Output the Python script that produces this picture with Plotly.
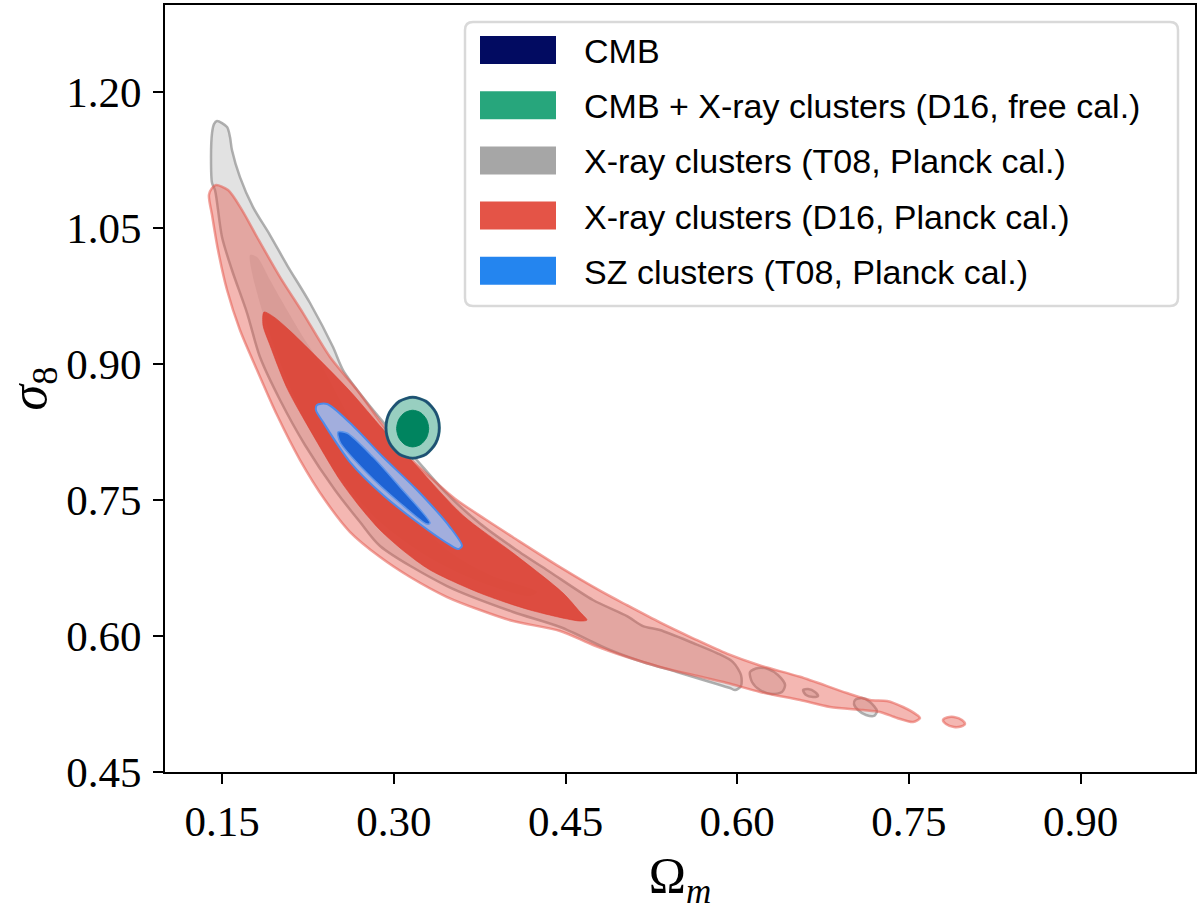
import plotly.graph_objects as go

# ---------------- data ----------------
# X-ray clusters (T08, Planck cal.) : 95% region (main body + small islands) and 68% region
gray95_x = [0.1454, 0.1542, 0.1568, 0.1585, 0.1655, 0.1769, 0.1917, 0.2066, 0.2267, 0.2468, 0.2555,
            0.2748, 0.2966, 0.3185, 0.3447, 0.3752, 0.4058, 0.4364, 0.4740, 0.5037, 0.5177, 0.5325,
            0.5614, 0.5823, 0.5963, 0.6033, 0.6033, 0.5981,
            0.5937, 0.5762, 0.5474, 0.5177, 0.4888, 0.4452, 0.4041, 0.3464, 0.2879, 0.2704, 0.2485,
            0.2223, 0.2005, 0.1830, 0.1717, 0.1585, 0.1498, 0.1437, 0.1411, 0.1402, 0.1411, 0.1428]
gray95_y = [1.1680, 1.1614, 1.1503, 1.1360, 1.1062, 1.0731, 1.0423, 1.0092, 0.9673, 0.9187, 0.8934,
            0.8603, 0.8272, 0.7963, 0.7590, 0.7240, 0.6960, 0.6706, 0.6397, 0.6220, 0.6110, 0.6066,
            0.5923, 0.5812, 0.5713, 0.5570, 0.5448, 0.5404,
            0.5426, 0.5493, 0.5603, 0.5713, 0.5846, 0.6099, 0.6265, 0.6551, 0.6993, 0.7257, 0.7610,
            0.8107, 0.8603, 0.9077, 0.9562, 1.0037, 1.0401, 1.0919, 1.0996, 1.1283, 1.1548, 1.1647]
gray95_isl1_x = [0.6112, 0.6182, 0.6269, 0.6356, 0.6418, 0.6391, 0.6304, 0.6199, 0.6129]
gray95_isl1_y = [0.5603, 0.5647, 0.5636, 0.5570, 0.5460, 0.5382, 0.5360, 0.5404, 0.5493]
gray95_isl2_x = [0.6575, 0.6619, 0.6680, 0.6706, 0.6662, 0.6601]
gray95_isl2_y = [0.5404, 0.5415, 0.5382, 0.5338, 0.5327, 0.5349]
gray95_isl3_x = [0.7029, 0.7090, 0.7160, 0.7221, 0.7195, 0.7125, 0.7055, 0.7020]
gray95_isl3_y = [0.5294, 0.5316, 0.5272, 0.5173, 0.5118, 0.5129, 0.5184, 0.5250]
gray68_x = [0.1743, 0.1804, 0.1917, 0.2066, 0.2206, 0.2354, 0.2529, 0.2765, 0.3053, 0.3464, 0.3840, 0.4251,
            0.4189, 0.3752, 0.3316, 0.2879, 0.2529, 0.2267, 0.2049, 0.1874, 0.1786, 0.1743]
gray68_y = [1.0202, 1.0180, 0.9926, 0.9595, 0.9298, 0.9011, 0.8603, 0.8051, 0.7500, 0.6948, 0.6673, 0.6485,
            0.6441, 0.6596, 0.6860, 0.7257, 0.7754, 0.8272, 0.8879, 0.9485, 0.9871, 1.0125]

# X-ray clusters (D16, Planck cal.)
red95_x = [0.1446, 0.1551, 0.1673, 0.1804, 0.2005, 0.2206, 0.2442, 0.2678, 0.2922, 0.3115, 0.3342, 0.3534,
           0.3796, 0.4041, 0.4452, 0.4801, 0.5037, 0.5325, 0.5614, 0.5911, 0.6199, 0.6549, 0.6959, 0.7160,
           0.7309, 0.7449, 0.7571, 0.7597,
           0.7536, 0.7396, 0.7248, 0.7099, 0.6811, 0.6549, 0.6199, 0.5911, 0.5614, 0.5325, 0.5037, 0.4740,
           0.4452, 0.4041, 0.3752, 0.3464, 0.3141, 0.2879, 0.2617, 0.2398, 0.2180, 0.1979, 0.1804, 0.1655,
           0.1542, 0.1463, 0.1411, 0.1384, 0.1411]
red95_y = [1.0974, 1.0919, 1.0698, 1.0401, 0.9959, 0.9562, 0.9077, 0.8713, 0.8294, 0.7996, 0.7725, 0.7515,
           0.7290, 0.7090, 0.6760, 0.6500, 0.6340, 0.6150, 0.5975, 0.5805, 0.5675, 0.5550, 0.5371, 0.5294,
           0.5283, 0.5217, 0.5129, 0.5096,
           0.5051, 0.5096, 0.5162, 0.5184, 0.5217, 0.5294, 0.5382, 0.5482, 0.5570, 0.5658, 0.5768, 0.5901,
           0.6055, 0.6165, 0.6287, 0.6430, 0.6651, 0.6871, 0.7147, 0.7500, 0.7941, 0.8437, 0.8934, 0.9375,
           0.9816, 1.0257, 1.0643, 1.0864, 1.0941]
red95_isl_x = [0.7798, 0.7833, 0.7894, 0.7964, 0.7990, 0.7955, 0.7894, 0.7824]
red95_isl_y = [0.5074, 0.5101, 0.5107, 0.5074, 0.5029, 0.5002, 0.4996, 0.5029]
red68_x = [0.1865, 0.1950, 0.2080, 0.2300, 0.2617, 0.2905, 0.3202, 0.3604, 0.4041, 0.4478, 0.4626,
           0.4687, 0.4626, 0.4189, 0.3752, 0.3316, 0.3097, 0.2879, 0.2704, 0.2529, 0.2293, 0.2066, 0.1917,
           0.1856]
red68_y = [0.9573, 0.9520, 0.9380, 0.9110, 0.8700, 0.8280, 0.7870, 0.7330, 0.6915, 0.6474, 0.6265,
           0.6176, 0.6165, 0.6287, 0.6474, 0.6728, 0.6926, 0.7169, 0.7423, 0.7720, 0.8217, 0.8735, 0.9209,
           0.9430]

# SZ clusters (T08, Planck cal.)
blue95_x = [0.2328, 0.2416, 0.2617, 0.2905, 0.3202, 0.3490, 0.3595, 0.3560, 0.3490, 0.3202, 0.2905, 0.2617,
            0.2381, 0.2319]
blue95_y = [0.8548, 0.8559, 0.8349, 0.7974, 0.7610, 0.7202, 0.6993, 0.6959, 0.7004, 0.7257, 0.7555, 0.7919,
            0.8360, 0.8492]
blue68_x = [0.2512, 0.2590, 0.2818, 0.3053, 0.3316, 0.3289, 0.3053, 0.2765, 0.2529]
blue68_y = [0.8250, 0.8239, 0.7974, 0.7643, 0.7246, 0.7235, 0.7467, 0.7798, 0.8140]

# CMB + X-ray clusters (D16, free cal.)  (the CMB contour lies on the same outline)
green95_x = [0.3397, 0.3366, 0.3281, 0.3164, 0.3047, 0.2962, 0.2931, 0.2962, 0.3047, 0.3164, 0.3281, 0.3366]
green95_y = [0.8297, 0.8465, 0.8588, 0.8633, 0.8588, 0.8465, 0.8297, 0.8129, 0.8006, 0.7961, 0.8006, 0.8129]
green68_x = [0.3304, 0.3285, 0.3234, 0.3164, 0.3094, 0.3043, 0.3024, 0.3043, 0.3094, 0.3164, 0.3234, 0.3285]
green68_y = [0.8288, 0.8389, 0.8463, 0.8490, 0.8463, 0.8389, 0.8288, 0.8187, 0.8113, 0.8086, 0.8113, 0.8187]

legend_labels = ["CMB", "CMB + X-ray clusters (D16, free cal.)", "X-ray clusters (T08, Planck cal.)",
                 "X-ray clusters (D16, Planck cal.)", "SZ clusters (T08, Planck cal.)"]
legend_colors = ["#020b61", "#27a67c", "#a6a6a6", "#e45447", "#2485ef"]

x_ticks = [0.15, 0.30, 0.45, 0.60, 0.75, 0.90]
y_ticks = [0.45, 0.60, 0.75, 0.90, 1.05, 1.20]

# ---------------- figure ----------------
fig = go.Figure()


def closed(v):
    return list(v) + [v[0]]


def region(xs, ys, fill, line_color, line_width, name):
    fig.add_trace(go.Scatter(
        x=closed(xs), y=closed(ys), mode="lines", fill="toself",
        fillcolor=fill, line=dict(color=line_color, width=line_width, shape="spline", smoothing=0.8),
        name=name, showlegend=False, hoverinfo="skip"))


gray_fill = "rgba(166,166,166,0.33)"
gray_line = "rgba(150,150,150,0.75)"
region(gray95_x, gray95_y, gray_fill, gray_line, 2.5, "T08 95")
region(gray95_isl1_x, gray95_isl1_y, gray_fill, gray_line, 2.5, "T08 95")
region(gray95_isl2_x, gray95_isl2_y, gray_fill, gray_line, 2.5, "T08 95")
region(gray95_isl3_x, gray95_isl3_y, gray_fill, gray_line, 2.5, "T08 95")
region(gray68_x, gray68_y, "rgba(166,166,166,0.28)", "rgba(166,166,166,0.0)", 0, "T08 68")

red_fill = "rgba(228,84,71,0.42)"
red_line = "rgba(230,90,78,0.55)"
region(red95_x, red95_y, red_fill, red_line, 2.5, "D16 95")
region(red95_isl_x, red95_isl_y, red_fill, red_line, 2.5, "D16 95")
region(red68_x, red68_y, "rgba(220,62,48,0.86)", "rgba(220,62,48,0.6)", 1, "D16 68")

region(blue95_x, blue95_y, "rgba(160,178,226,0.97)", "rgba(78,138,234,1)", 2, "SZ 95")
region(blue68_x, blue68_y, "rgba(30,99,212,1)", "rgba(95,150,235,1)", 1.5, "SZ 68")

region(green95_x, green95_y, "rgba(152,207,192,1)", "#2b6d7c", 3, "CMB+X 95")
region(green68_x, green68_y, "#00845f", "#00845f", 1, "CMB+X 68")
fig.add_trace(go.Scatter(x=closed(green95_x), y=closed(green95_y), mode="lines",
                         line=dict(color="rgba(2,11,97,0.3)", width=2, shape="spline", smoothing=0.8),
                         name="CMB", showlegend=False, hoverinfo="skip"))

# ---------------- custom legend (patches + text) ----------------
x0_px, x1_px = 165, 1195
y0_px, y1_px = 5, 772
W, H = x1_px - x0_px, y1_px - y0_px


def px_x(p):
    return (p - x0_px) / W


def px_y(p):
    return (y1_px - p) / H


# rounded legend frame
bl, br, bt, bb, r = 465, 1178, 22, 306, 8
frame = (f"M {px_x(bl + r)},{px_y(bt)} L {px_x(br - r)},{px_y(bt)} "
         f"Q {px_x(br)},{px_y(bt)} {px_x(br)},{px_y(bt + r)} L {px_x(br)},{px_y(bb - r)} "
         f"Q {px_x(br)},{px_y(bb)} {px_x(br - r)},{px_y(bb)} L {px_x(bl + r)},{px_y(bb)} "
         f"Q {px_x(bl)},{px_y(bb)} {px_x(bl)},{px_y(bb - r)} L {px_x(bl)},{px_y(bt + r)} "
         f"Q {px_x(bl)},{px_y(bt)} {px_x(bl + r)},{px_y(bt)} Z")
fig.add_shape(type="path", xref="paper", yref="paper", path=frame,
              line=dict(color="#d9d9d9", width=2.5), fillcolor="rgba(255,255,255,0.85)", layer="above")
row0, step = 50, 55.2
for i, (lab, col) in enumerate(zip(legend_labels, legend_colors)):
    cy = row0 + i * step
    fig.add_shape(type="rect", xref="paper", yref="paper",
                  x0=px_x(480), x1=px_x(556), y0=px_y(cy + 14), y1=px_y(cy - 14),
                  line=dict(width=0), fillcolor=col, layer="above")
    fig.add_annotation(xref="paper", yref="paper", x=px_x(582), y=px_y(cy + 1),
                       text=lab, showarrow=False, xanchor="left", yanchor="middle",
                       font=dict(family="Liberation Sans", size=34, color="black"))

axis_common = dict(showgrid=False, zeroline=False, showline=True, linecolor="black", linewidth=2,
                   mirror=True, ticks="outside", ticklen=10, tickwidth=2, tickcolor="black",
                   tickfont=dict(family="Liberation Serif", size=43, color="black"))

fig.update_layout(
    width=1200, height=911,
    margin=dict(l=x0_px, r=1200 - x1_px, t=y0_px, b=911 - y1_px),
    paper_bgcolor="white", plot_bgcolor="white",
    showlegend=False,
    xaxis=dict(range=[0.10, 1.00], tickvals=x_ticks, ticktext=[f"{v:.2f}" for v in x_ticks],
               title=dict(text="Ω<sub><i>m</i></sub>", standoff=14,
                          font=dict(family="Liberation Serif", size=50, color="black")),
               automargin=False, **axis_common),
    yaxis=dict(range=[0.45, 1.296], tickvals=y_ticks, ticktext=[f"{v:.2f}" for v in y_ticks],
               title=dict(text="<i>σ</i><sub>8</sub>", standoff=12,
                          font=dict(family="Liberation Serif", size=52, color="black")),
               automargin=False, ticklabelstandoff=3, **axis_common),
)

fig.write_html("out.html", config={"displayModeBar": False},
               post_script="document.body.style.margin='0px';document.body.style.padding='0px';")
